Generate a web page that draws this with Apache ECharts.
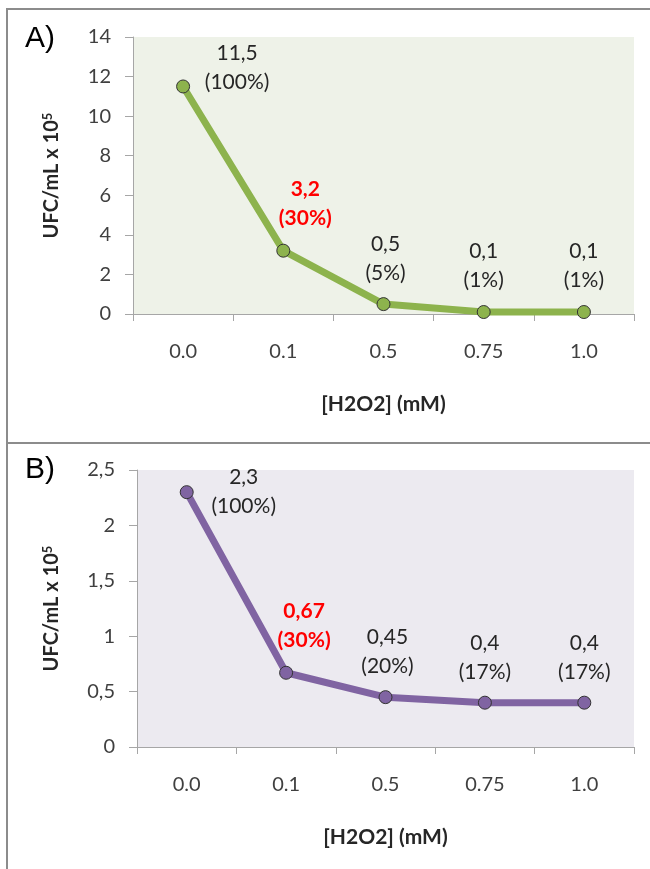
<!DOCTYPE html>
<html>
<head>
<meta charset="utf-8">
<script src="https://cdn.jsdelivr.net/npm/echarts@6/dist/echarts.min.js"></script>
<style>
html,body{margin:0;padding:0;background:#fff;}
#c{width:650px;height:869px;}
</style>
</head>
<body>
<div id="c"></div>
<script>
// ---- data ----
var categories = ['0.0', '0.1', '0.5', '0.75', '1.0'];
var valuesA = [11.5, 3.2, 0.5, 0.1, 0.1];
var pctA = [100, 30, 5, 1, 1];
var valuesB = [2.3, 0.67, 0.45, 0.4, 0.4];
var pctB = [100, 30, 20, 17, 17];
var highlightIndex = 1;
var yTicksA = {min: 0, max: 14, interval: 2};
var yTicksB = {min: 0, max: 2.5, interval: 0.5};

// ---- style ----
var FONT = 'Lato, "Open Sans", sans-serif';
var offsetsA = [[54, 26], [22, -2], [2, 0], [0, -1], [0, -1]];
var offsetsB = [[57, 45], [18, -2], [2, 0], [0, 0], [0, 0]];
var comma = function (v) { return String(v).replace('.', ','); };

function buildData(vals, pcts, offs) {
  return vals.map(function (v, i) {
    var hl = i === highlightIndex;
    return {
      value: v,
      label: {
        offset: offs[i],
        color: hl ? '#FF0000' : '#262626',
        fontWeight: hl ? 'bold' : 'normal',
        formatter: comma(v) + '\n(' + pcts[i] + '%)'
      }
    };
  });
}

var axisGrey = '#A6A6A6';
function xAxis(gi) {
  return {
    type: 'category', gridIndex: gi, data: categories,
    boundaryGap: true,
    axisLine: {lineStyle: {color: axisGrey, width: 1}},
    axisTick: {show: true, length: 7, alignWithLabel: false, lineStyle: {color: axisGrey}},
    axisLabel: {color: '#404040', fontSize: 20, fontFamily: FONT, margin: 28},
    name: '[H2O2] (mM)', nameLocation: 'middle', nameGap: 80,
    nameTextStyle: {color: '#262626', fontSize: 21, fontWeight: 'bold', fontFamily: FONT}
  };
}
function yAxis(gi, t, gap) {
  return {
    type: 'value', gridIndex: gi, min: t.min, max: t.max, interval: t.interval,
    splitLine: {show: false},
    axisLine: {show: true, lineStyle: {color: axisGrey, width: 1}},
    axisTick: {show: true, length: 8, lineStyle: {color: axisGrey}},
    axisLabel: {color: '#404040', fontSize: 20, fontFamily: FONT, margin: 22, formatter: comma},
    name: '{a|UFC/mL x 10}{s|5}', nameLocation: 'middle', nameGap: gap,
    nameTextStyle: {
      rich: {
        a: {fontSize: 20, fontWeight: 'bold', color: '#262626', fontFamily: FONT},
        s: {fontSize: 13, fontWeight: 'bold', color: '#262626', fontFamily: FONT, verticalAlign: 'top', padding: [0, 0, 9, 0]}
      }
    }
  };
}
function series(gi, vals, pcts, offs, color) {
  return {
    type: 'line', xAxisIndex: gi, yAxisIndex: gi,
    data: buildData(vals, pcts, offs),
    symbol: 'circle', symbolSize: 13,
    lineStyle: {color: color, width: 7},
    itemStyle: {color: color, borderColor: '#333333', borderWidth: 1},
    label: {show: true, position: 'top', distance: 9, fontSize: 21, lineHeight: 29, fontFamily: FONT, align: 'center'},
    emphasis: {disabled: true},
    z: 3
  };
}

var chart = echarts.init(document.getElementById('c'), null, {renderer: 'canvas'});
chart.setOption({
  animation: false,
  backgroundColor: '#ffffff',
  grid: [
    {left: 133, top: 37, width: 501, height: 277, show: true, backgroundColor: '#EEF2E8', borderWidth: 0},
    {left: 137, top: 470, width: 497, height: 277, show: true, backgroundColor: '#ECEAF0', borderWidth: 0}
  ],
  xAxis: [xAxis(0), xAxis(1)],
  yAxis: [yAxis(0, yTicksA, 70), yAxis(1, yTicksB, 74)],
  series: [
    series(0, valuesA, pctA, offsetsA, '#8DB34D'),
    series(1, valuesB, pctB, offsetsB, '#8064A2')
  ],
  graphic: [
    {type: 'line', shape: {x1: 7, y1: 9, x2: 650, y2: 9}, style: {stroke: '#8C8C8C', lineWidth: 2}},
    {type: 'line', shape: {x1: 7, y1: 8, x2: 7, y2: 869}, style: {stroke: '#8C8C8C', lineWidth: 2}},
    {type: 'line', shape: {x1: 7, y1: 443, x2: 650, y2: 443}, style: {stroke: '#8C8C8C', lineWidth: 2}},
    {type: 'text', left: 25, top: 24, style: {text: 'A)', fontSize: 30, fontFamily: '"Liberation Sans", Arial, sans-serif', fill: '#000'}},
    {type: 'text', left: 25, top: 455, style: {text: 'B)', fontSize: 30, fontFamily: '"Liberation Sans", Arial, sans-serif', fill: '#000'}}
  ]
});
</script>
</body>
</html>
